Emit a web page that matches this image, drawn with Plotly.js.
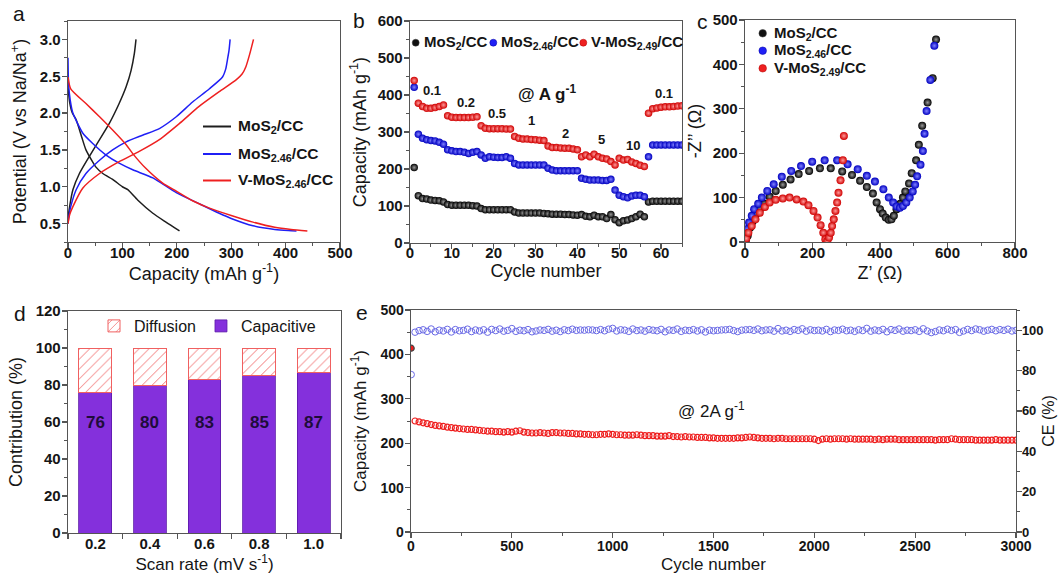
<!DOCTYPE html>
<html><head><meta charset="utf-8">
<script src="https://cdn.plot.ly/plotly-3.0.1.min.js"></script>
<style>
html,body{margin:0;padding:0;background:#fff}
#chart{width:1058px;height:574px}
#chart g[class$="tick"] > text{font-weight:700 !important}
</style>
</head><body><div id="chart"></div><script>
// ---------- Panel a: charge/discharge profiles ----------
const aBlackDisCap = [0, 3, 8, 15, 25, 33, 45, 51, 64, 82, 100, 110, 128, 156, 180, 205];
const aBlackDisV   = [2.35, 2.15, 2.0, 1.91, 1.68, 1.5, 1.34, 1.27, 1.18, 1.10, 1.0, 0.96, 0.82, 0.64, 0.52, 0.4];
const aBlackChgCap = [0, 1, 3, 9, 21, 39, 58, 76, 94, 107, 116, 122, 125];
const aBlackChgV   = [0.5, 0.62, 0.73, 0.96, 1.18, 1.41, 1.64, 1.86, 2.13, 2.36, 2.58, 2.81, 3.0];
const aBlueDisCap  = [0, 1, 4, 9, 27, 45, 70, 94, 119, 156, 199, 241, 278, 300, 340, 380, 405, 420];
const aBlueDisV    = [2.75, 2.4, 2.18, 2.0, 1.73, 1.59, 1.43, 1.32, 1.23, 1.12, 0.92, 0.77, 0.64, 0.57, 0.47, 0.42, 0.405, 0.4];
const aBlueChgCap  = [0, 2, 5, 15, 33, 58, 82, 107, 137, 168, 199, 229, 260, 284, 290, 293, 296, 298];
const aBlueChgV    = [0.5, 0.62, 0.73, 0.96, 1.18, 1.36, 1.5, 1.61, 1.70, 1.79, 1.95, 2.15, 2.33, 2.49, 2.6, 2.72, 2.85, 3.0];
const aRedDisCap   = [0, 5, 33, 58, 82, 107, 119, 143, 174, 199, 229, 260, 300, 340, 380, 410, 440];
const aRedDisV     = [2.49, 2.33, 2.13, 1.95, 1.77, 1.57, 1.45, 1.25, 1.05, 0.94, 0.81, 0.71, 0.61, 0.52, 0.45, 0.42, 0.4];
const aRedChgCap   = [0, 3, 9, 27, 58, 94, 131, 168, 205, 241, 278, 309, 320, 327, 334, 341];
const aRedChgV     = [0.5, 0.62, 0.73, 0.98, 1.18, 1.34, 1.48, 1.64, 1.86, 2.09, 2.29, 2.45, 2.53, 2.63, 2.8, 3.0];
const aNames = ['MoS<sub>2</sub>/CC', 'MoS<sub>2.46</sub>/CC', 'V-MoS<sub>2.46</sub>/CC'];

// ---------- Panel b: rate performance ----------
const bCycles = [1,2,3,4,5,6,7,8,9,10,11,12,13,14,15,16,17,18,19,20,21,22,23,24,25,26,27,28,29,30,31,32,33,34,35,36,37,38,39,40,41,42,43,44,45,46,47,48,49,50,51,52,53,54,55,56,57,58,59,60,61,62,63,64,65];
const bBlack = [204, 128,120,119,116,115,114,111, 104,102,102,102,102,102,101,100, 93,90,90,90,90,90,90,90, 84,81,81,81,81,81,81,80, 79,78,78,78,77,77,76,75, 77,72,71,75,71,71,66,77, 63,55,60,62,66,71,78,71, 111,113,113,113,113,113,113,113,113];
const bBlue  = [421, 294,283,279,277,276,272,267, 252,249,247,247,245,242,245,247, 238,229,233,232,231,231,233,229, 215,211,211,211,211,211,211,211, 202,197,195,195,195,195,195,195, 175,172,170,170,170,169,169,172, 143,129,125,122,127,129,129,125, 233,265,265,265,265,265,265,265,265];
const bRed   = [439, 378,369,364,364,366,369,373, 344,340,339,339,339,339,340,341, 317,310,309,309,309,309,308,308, 288,283,281,281,280,279,278,277, 262,258,258,257,256,256,254,252, 233,238,233,240,233,229,227,220, 211,229,224,226,219,215,210,207, 351,363,365,367,368,368,369,370,371];
const bNames = ['MoS<sub>2</sub>/CC', 'MoS<sub>2.46</sub>/CC', 'V-MoS<sub>2.49</sub>/CC'];
const bRateLabels = ['0.1', '0.2', '0.5', '1', '2', '5', '10', '0.1'];
const bRateX = [5.2, 13.3, 20.9, 29, 37.2, 45.7, 53.3, 60.6];
const bRateY = [413, 381, 349, 330, 297, 281, 263, 403];

// ---------- Panel c: Nyquist plots ----------
const cBlackX = [2, 8, 15, 23, 32, 44, 57, 73, 91, 112, 135, 159, 190, 222, 254, 288, 317, 341, 361, 379, 390, 400, 408, 417, 426, 434, 441, 449, 460, 468, 475, 486, 494, 507, 515, 525, 541, 556, 566];
const cBlackY = [2, 14, 32, 47, 62, 74, 86, 102, 115, 129, 141, 153, 160, 166, 166, 159, 151, 138, 124, 109, 89, 74, 64, 55, 50, 51, 59, 74, 86, 100, 114, 132, 155, 184, 219, 262, 314, 369, 456];
const cBlueX = [0, 2, 6, 12, 20, 27, 39, 50, 66, 85, 109, 137, 166, 199, 236, 273, 304, 334, 361, 385, 410, 426, 439, 449, 459, 468, 478, 488, 497, 504, 510, 520, 527, 532, 538, 549, 561];
const cBlueY = [2, 14, 29, 44, 59, 74, 86, 100, 115, 130, 147, 160, 171, 181, 184, 184, 175, 164, 149, 136, 119, 100, 89, 80, 77, 81, 89, 100, 114, 129, 148, 174, 205, 244, 295, 365, 442];
const cRedX = [4, 10, 20, 31, 44, 59, 73, 91, 112, 132, 153, 173, 188, 203, 215, 224, 232, 238, 244, 249, 254, 258, 263, 268, 273, 277, 283, 290, 293];
const cRedY = [8, 21, 36, 51, 66, 79, 89, 95, 98, 100, 96, 91, 83, 70, 55, 38, 21, 6, 2, 10, 21, 36, 51, 70, 89, 111, 139, 184, 239];

// ---------- Panel d: contribution ----------
const dRates = ['0.2', '0.4', '0.6', '0.8', '1.0'];
const dCapacitive = [76, 80, 83, 85, 87];
const dDiffusion = [24, 20, 17, 15, 13];

// ---------- Panel e: long cycling ----------
const eCycles = [1,20,40,60,80,100,120,140,160,180,200,
220,240,260,280,300,320,340,360,380,400,
420,440,460,480,500,520,540,560,580,600,
620,640,660,680,700,720,740,760,780,800,
820,840,860,880,900,920,940,960,980,1000,
1020,1040,1060,1080,1100,1120,1140,1160,1180,1200,
1220,1240,1260,1280,1300,1320,1340,1360,1380,1400,
1420,1440,1460,1480,1500,1520,1540,1560,1580,1600,
1620,1640,1660,1680,1700,1720,1740,1760,1780,1800,
1820,1840,1860,1880,1900,1920,1940,1960,1980,2000,
2020,2040,2060,2080,2100,2120,2140,2160,2180,2200,
2220,2240,2260,2280,2300,2320,2340,2360,2380,2400,
2420,2440,2460,2480,2500,2520,2540,2560,2580,2600,
2620,2640,2660,2680,2700,2720,2740,2760,2780,2800,
2820,2840,2860,2880,2900,2920,2940,2960,2980,3000];
const eCapacity = [414,
250,248,246,244,242,240,239,238,236,235,
234,233,232,231,231,230,229,228,227,227,
226,226,225,226,225,227,228,225,224,223,
223,224,223,222,224,224,223,223,222,222,
221,221,220,220,219,219,220,220,221,220,
219,219,218,218,218,219,218,217,217,217,
216,216,216,217,215,215,214,215,214,214,
213,213,213,212,212,211,211,211,211,211,
212,212,213,214,213,212,211,211,211,210,
211,211,210,210,210,210,210,210,210,209,
206,209,210,209,210,210,210,209,210,209,
209,209,209,209,208,209,208,209,209,209,
208,208,208,208,208,208,208,208,208,207,
208,208,208,210,209,208,208,208,208,207,
207,207,207,207,208,207,207,207,207,207];
const eCE = [78,
99.0,99.8,100.2,99.4,100.6,99.2,100.0,99.6,100.4,99.1,
100.3,99.7,99.9,100.5,99.3,100.1,99.6,100.2,99.0,100.4,
99.8,100.6,99.5,99.9,100.8,99.4,100.0,99.7,100.3,99.2,
99.6,100.1,99.9,100.4,99.5,100.0,99.3,100.2,99.8,100.5,
99.9,100.1,100.0,100.2,100.1,99.8,100.3,99.7,100.5,100.9,
99.6,100.2,100.0,99.4,100.6,99.8,100.1,99.5,100.3,100.0,
99.7,100.4,99.2,100.1,99.9,100.6,99.4,100.0,99.8,100.3,
99.6,100.2,99.1,100.0,99.7,99.9,100.1,100.2,100.4,99.8,
99.3,100.0,100.2,100.3,99.9,100.6,99.7,100.1,100.2,99.5,
100.8,99.6,100.0,99.4,100.3,99.9,100.7,99.5,100.2,99.8,
100.0,99.6,100.4,99.3,100.1,99.9,100.5,99.7,100.0,99.4,
100.2,99.8,100.9,99.5,100.1,99.7,100.4,99.2,100.3,99.9,
100.6,99.5,100.0,99.8,100.2,99.4,100.7,99.6,98.8,99.3,
100.1,99.7,100.5,99.9,100.3,98.9,99.6,100.4,99.8,100.6,
100.2,99.5,100.0,100.4,99.7,100.3,99.9,100.5,99.6,99.9];

// ---------- styling / layout ----------
const W = 1058, H = 574;
const fx = p => p / W;
const fy = p => 1 - p / H;
const FONT = 'Liberation Sans, Arial, sans-serif';
const TXT = '#151515';
const LINEC = '#555';
const BLACK = '#1e1e1e', BLUE = '#1f1ff5', RED = '#ee2020';

function axis(extra) {
  return Object.assign({
    showline: true, mirror: true, linecolor: LINEC, linewidth: 1.3,
    ticks: 'outside', ticklen: 5, tickwidth: 1.2, tickcolor: LINEC,
    showgrid: false, zeroline: false, automargin: false,
    tickfont: {family: FONT, size: 15, color: TXT, weight: 700}
  }, extra);
}
function mnr(d) { return {dtick: d, ticks: 'outside', ticklen: 3, tickwidth: 1, tickcolor: LINEC}; }
function ttl(text, standoff, size) {
  return {text: text, standoff: standoff, font: {family: FONT, size: size || 18, color: TXT}};
}
const eTick = {family: FONT, size: 14, color: TXT, weight: 700};

const traces = [];
// panel a
const aSets = [[aBlackDisCap, aBlackDisV, BLACK, 0], [aBlackChgCap, aBlackChgV, BLACK, 0],
               [aBlueDisCap, aBlueDisV, BLUE, 1], [aBlueChgCap, aBlueChgV, BLUE, 1],
               [aRedDisCap, aRedDisV, RED, 2], [aRedChgCap, aRedChgV, RED, 2]];
aSets.forEach(s => traces.push({x: s[0], y: s[1], xaxis: 'x', yaxis: 'y', type: 'scatter', mode: 'lines',
  line: {color: s[2], width: 1.5, shape: 'spline', smoothing: 0.6}, name: aNames[s[3]], showlegend: false}));

// panel b
const ballBlack = {color: '#000000', gradient: {type: 'radial', color: '#9a9a9a'}};
const ballBlue = {color: '#0000c0', gradient: {type: 'radial', color: '#8080ff'}};
const ballRed = {color: '#d00000', gradient: {type: 'radial', color: '#ff9a9a'}};
[[bBlack, ballBlack, 0], [bBlue, ballBlue, 1], [bRed, ballRed, 2]].forEach(s => traces.push({
  x: bCycles, y: s[0], xaxis: 'x2', yaxis: 'y2', type: 'scatter', mode: 'markers', name: bNames[s[2]],
  marker: Object.assign({size: 7.5, line: {width: 0}}, s[1]), showlegend: false}));

// panel c
[[cBlackX, cBlackY, ballBlack, 0], [cBlueX, cBlueY, ballBlue, 1], [cRedX, cRedY, ballRed, 2]].forEach(s => traces.push({
  x: s[0], y: s[1], xaxis: 'x3', yaxis: 'y3', type: 'scatter', mode: 'markers', name: bNames[s[3]],
  marker: Object.assign({size: 8, line: {width: 0}}, s[2]), showlegend: false}));

// panel d
traces.push({x: dRates, y: dCapacitive, xaxis: 'x4', yaxis: 'y4', type: 'bar', name: 'Capacitive', width: 0.6,
  marker: {color: '#8430dc', line: {color: '#5a18a8', width: 0.8}}, legend: 'legend'});
traces.push({x: dRates, y: dDiffusion, xaxis: 'x4', yaxis: 'y4', type: 'bar', name: 'Diffusion', width: 0.6,
  marker: {color: '#ffffff', line: {color: '#f06060', width: 1},
    pattern: {shape: '/', fgcolor: '#f06060', bgcolor: '#ffffff', size: 7, solidity: 0.12}}, legend: 'legend'});

// panel e
traces.push({x: eCycles, y: eCE, xaxis: 'x5', yaxis: 'y6', type: 'scatter', mode: 'markers', name: 'CE',
  marker: {symbol: 'circle-open', size: 6.5, color: '#6a6ae6', line: {width: 1}}, showlegend: false});
traces.push({x: eCycles, y: eCapacity, xaxis: 'x5', yaxis: 'y5', type: 'scatter', mode: 'markers', name: 'Capacity',
  marker: {symbol: eCapacity.map((v, i) => i === 0 ? 'circle' : 'circle-open'), size: 6, color: '#ee1c1c', line: {width: 1.2}}, showlegend: false});

const annotations = [];
const shapes = [];
function label(t, x, y) {
  annotations.push({text: t, xref: 'paper', yref: 'paper', x: fx(x), y: fy(y), xanchor: 'center', yanchor: 'middle',
    showarrow: false, font: {family: FONT, size: 21, color: TXT}});
}
label('a', 19, 13); label('b', 359, 20); label('c', 702, 21); label('d', 20, 314); label('e', 362, 312);

// legend panel a (line samples)
const aLegY = [126.5, 154, 180.5];
const aLegC = [BLACK, BLUE, RED];
aNames.forEach((n, i) => {
  shapes.push({type: 'line', xref: 'paper', yref: 'paper', x0: fx(203), x1: fx(231), y0: fy(aLegY[i]), y1: fy(aLegY[i]),
    line: {color: aLegC[i], width: 2}});
  annotations.push({text: n, xref: 'paper', yref: 'paper', x: fx(236), y: fy(aLegY[i]), xanchor: 'left', yanchor: 'middle',
    showarrow: false, font: {family: FONT, size: 15.5, color: TXT, weight: 700}});
});
// legend panel b (horizontal)
const bLegMX = [415.7, 493.3, 583.3];
const bLegTX = [422, 499, 588.5];
const ballC = [['#111', '#444'], [BLUE, '#0000a0'], [RED, '#b00000']];
bNames.forEach((n, i) => {
  shapes.push({type: 'circle', xref: 'paper', yref: 'paper', xsizemode: 'pixel', ysizemode: 'pixel',
    xanchor: fx(bLegMX[i]), yanchor: fy(42.7), x0: -3.5, x1: 3.5, y0: -3.5, y1: 3.5,
    fillcolor: ballC[i][0], line: {color: ballC[i][1], width: 0.5}});
  annotations.push({text: n, xref: 'paper', yref: 'paper', x: fx(bLegTX[i]), y: fy(42.7), xanchor: 'left', yanchor: 'middle',
    showarrow: false, font: {family: FONT, size: 15, color: TXT, weight: 700}});
});
// legend panel c (vertical)
const cLegY = [33.3, 50.7, 68.3];
bNames.forEach((n, i) => {
  shapes.push({type: 'circle', xref: 'paper', yref: 'paper', xsizemode: 'pixel', ysizemode: 'pixel',
    xanchor: fx(762.7), yanchor: fy(cLegY[i]), x0: -3.8, x1: 3.8, y0: -3.8, y1: 3.8,
    fillcolor: ballC[i][0], line: {color: ballC[i][1], width: 0.5}});
  annotations.push({text: n, xref: 'paper', yref: 'paper', x: fx(772), y: fy(cLegY[i]), xanchor: 'left', yanchor: 'middle',
    showarrow: false, font: {family: FONT, size: 15, color: TXT, weight: 700}});
});
// rate labels panel b
bRateLabels.forEach((t, i) => annotations.push({text: t, xref: 'x2', yref: 'y2', x: bRateX[i], y: bRateY[i],
  showarrow: false, font: {family: FONT, size: 13, color: TXT, weight: 700}}));
annotations.push({text: '@ A g<sup>-1</sup>', xref: 'x2', yref: 'y2', x: 32.7, y: 405, showarrow: false,
  font: {family: FONT, size: 17, color: TXT, weight: 700}});
// values on bars panel d (category index on the category axis)
dRates.forEach((r, i) => annotations.push({text: String(dCapacitive[i]), xref: 'x4', yref: 'y4', x: i, y: 60,
  showarrow: false, font: {family: FONT, size: 17, color: '#1e0c3a', weight: 700}}));
// panel e label
annotations.push({text: '@ 2A g<sup>-1</sup>', xref: 'x5', yref: 'y5', x: 1490, y: 275, showarrow: false,
  font: {family: FONT, size: 17, color: TXT}});

const layout = {
  width: W, height: H, margin: {l: 0, r: 0, t: 0, b: 0},
  paper_bgcolor: '#ffffff', plot_bgcolor: '#ffffff', barmode: 'stack',
  font: {family: FONT, color: TXT},
  xaxis: axis({domain: [fx(68), fx(340)], range: [0, 500], dtick: 100, minor: mnr(50), ticklabelstandoff: -8,
    title: ttl('Capacity (mAh g<sup>-1</sup>)', 5), anchor: 'y'}),
  yaxis: axis({domain: [fy(242), fy(21)], range: [0.25, 3.25], dtick: 0.5, tickformat: '.1f', minor: mnr(0.25), ticklabelstandoff: -2,
    title: ttl('Potential (V vs Na/Na<sup>+</sup>)', 8), anchor: 'x'}),
  xaxis2: axis({domain: [fx(410), fx(682)], range: [0, 65], dtick: 10, minor: mnr(5), ticklabelstandoff: -9,
    title: ttl('Cycle number', 2), anchor: 'y2'}),
  yaxis2: axis({domain: [fy(243), fy(21)], range: [0, 600], dtick: 100, minor: mnr(50), ticklabelstandoff: -2,
    title: ttl('Capacity (mAh g<sup>-1</sup>)', 6), anchor: 'x2'}),
  xaxis3: axis({domain: [fx(745), fx(1015)], range: [0, 800], dtick: 200, minor: mnr(100), ticklabelstandoff: -8,
    title: ttl('Z\u2019 (\u03A9)', 6), anchor: 'y3'}),
  yaxis3: axis({domain: [fy(242), fy(20)], range: [0, 500], dtick: 100, minor: mnr(50), ticklabelstandoff: -2,
    title: ttl('-Z\u2019\u2019 (\u03A9)', 6), anchor: 'x3'}),
  xaxis4: axis({domain: [fx(68), fx(341)], type: 'category', range: [-0.5, 4.5], tickson: 'boundaries', ticklabelstandoff: -3,
    title: ttl('Scan rate (mV s<sup>-1</sup>)', 5, 17), anchor: 'y4'}),
  yaxis4: axis({domain: [fy(533), fy(311)], range: [0, 120], dtick: 20, minor: mnr(10), ticklabelstandoff: -2,
    title: ttl('Contribution (%)', 8), anchor: 'x4'}),
  xaxis5: axis({domain: [fx(411), fx(1016)], range: [0, 3000], dtick: 500, minor: mnr(250), ticklabelstandoff: -4,
    tickfont: eTick, title: ttl('Cycle number', 7, 17), anchor: 'y5'}),
  yaxis5: axis({domain: [fy(532), fy(310)], range: [0, 500], dtick: 100, mirror: false, minor: mnr(50), ticklabelstandoff: -2,
    tickfont: eTick, title: ttl('Capacity (mAh g<sup>-1</sup>)', 9, 17), anchor: 'x5'}),
  yaxis6: axis({overlaying: 'y5', side: 'right', range: [0, 110], dtick: 20, mirror: false, minor: mnr(10), ticklabelstandoff: -3,
    tickfont: {family: FONT, size: 13, color: TXT, weight: 700}, title: ttl('CE (%)', 0, 16), anchor: 'x5'}),
  legend: {orientation: 'h', x: fx(94), y: fy(326), xanchor: 'left', yanchor: 'middle', traceorder: 'reversed',
    bgcolor: 'rgba(0,0,0,0)', font: {family: FONT, size: 16, color: TXT}},
  annotations: annotations, shapes: shapes
};

Plotly.newPlot('chart', traces, layout, {staticPlot: true, displayModeBar: false});
</script></body></html>
